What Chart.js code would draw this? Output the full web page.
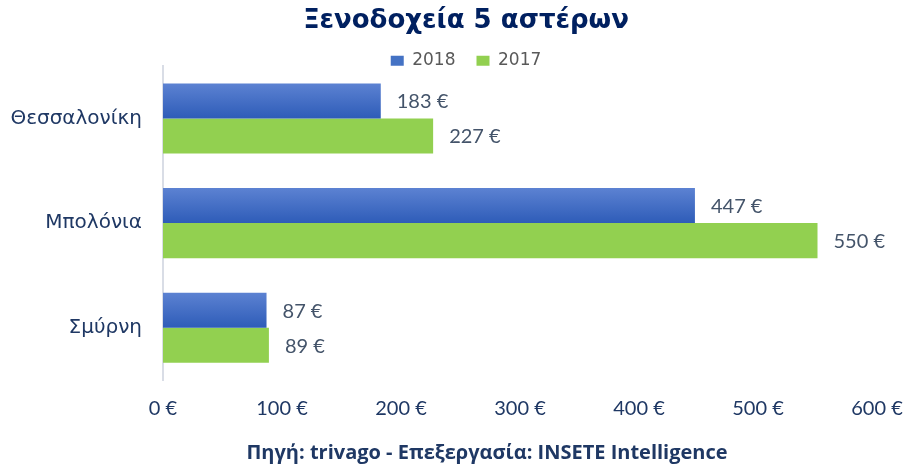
<!DOCTYPE html>
<html>
<head>
<meta charset="utf-8">
<script src="https://cdn.jsdelivr.net/npm/chart.js@4"></script>
<style>
  html, body { margin: 0; padding: 0; background: #fff; }
  #wrap { width: 907px; height: 464px; }
</style>
</head>
<body>
<div id="wrap"><canvas id="myChart" width="907" height="464"></canvas></div>
<script>
// DATA ----------------------------------------
const cities = ['Θεσσαλονίκη', 'Μπολόνια', 'Σμύρνη'];
const prices2018 = [183, 447, 87];
const prices2017 = [227, 550, 89];
const xTicks = [0, 100, 200, 300, 400, 500, 600];
const footerText = 'Πηγή: trivago - Επεξεργασία: INSETE Intelligence';

const navy = '#1f3864';
const catPct = 0.67;

// blue bars have a light-to-dark vertical gradient
function blueFill(c) {
    const chart = c.chart;
    const y = chart.scales.y;
    if (c.type !== 'data' || !y) return '#3f6cc7';
    const yc = y.getPixelForValue(c.dataIndex);
    const band = y.getPixelForValue(1) - y.getPixelForValue(0);
    const h = band * catPct / 2;
    if (!isFinite(yc) || !isFinite(h) || h <= 0) return '#3f6cc7';
    const g = chart.ctx.createLinearGradient(0, yc - h, 0, yc);
    g.addColorStop(0, '#5c82d2');
    g.addColorStop(1, '#2e5cb8');
    return g;
}

// value labels to the right of each bar + source line at the bottom
const valueLabels = {
    id: 'valueLabels',
    afterLayout(chart) {
        // left padding only shifts title/legend; let the city names use the full left margin
        chart.scales.y.left = 0;
    },
    afterDatasetsDraw(chart) {
        const ctx = chart.ctx;
        ctx.save();
        ctx.font = '20px Lato, "Open Sans", sans-serif';
        ctx.fillStyle = '#44546a';
        ctx.textBaseline = 'middle';
        ctx.textAlign = 'left';
        chart.data.datasets.forEach((ds, di) => {
            chart.getDatasetMeta(di).data.forEach((bar, i) => {
                ctx.fillText(ds.data[i] + ' €', bar.x + 16, bar.y + 1);
            });
        });
        ctx.font = 'bold 20px "Open Sans", sans-serif';
        ctx.fillStyle = navy;
        ctx.textAlign = 'center';
        ctx.fillText(footerText, 487, 453);
        ctx.restore();
    }
};

const config = {
    type: 'bar',
    data: {
        labels: cities,
        datasets: [{
            label: '2018',
            data: prices2018,
            backgroundColor: blueFill,
            borderWidth: 0,
            categoryPercentage: catPct,
            barPercentage: 1
        },
        {
            label: '2017',
            data: prices2017,
            backgroundColor: '#92d050',
            borderWidth: 0,
            categoryPercentage: catPct,
            barPercentage: 1
        }]
    },
    options: {
        indexAxis: 'y',
        responsive: false,
        animation: false,
        layout: { padding: { left: 55, right: 30, top: 0, bottom: 40 } },
        plugins: {
            title: {
                display: true,
                text: 'Ξενοδοχεία 5 αστέρων',
                color: '#002060',
                font: { family: '"DejaVu Sans", Verdana, sans-serif', size: 26, weight: 'bold', lineHeight: 1.2 },
                padding: { top: 6, bottom: -6 }
            },
            legend: {
                display: true,
                position: 'top',
                maxHeight: 35,
                labels: {
                    boxWidth: 13,
                    boxHeight: 10,
                    padding: 21,
                    color: '#595959',
                    font: { family: '"DejaVu Sans", Verdana, sans-serif', size: 17 },
                    generateLabels(chart) {
                        return chart.data.datasets.map((ds, i) => ({
                            text: ds.label,
                            fillStyle: i === 0 ? '#4472c4' : '#92d050',
                            strokeStyle: 'transparent',
                            lineWidth: 0,
                            datasetIndex: i,
                            fontColor: '#595959'
                        }));
                    }
                }
            },
            tooltip: { enabled: false }
        },
        scales: {
            x: {
                min: 0,
                max: 600,
                afterBuildTicks(scale) {
                    scale.ticks = xTicks.map(v => ({ value: v }));
                },
                afterFit(scale) {
                    scale.height = 44;
                    scale.paddingLeft = 0;
                    scale.paddingRight = 0;
                },
                grid: { display: false, drawTicks: false },
                border: { display: false },
                ticks: {
                    padding: 17,
                    color: navy,
                    font: { family: 'Lato, "Open Sans", sans-serif', size: 20 },
                    callback: v => v + ' €'
                }
            },
            y: {
                afterFit(scale) { scale.width = 108; },
                grid: { display: false, drawTicks: false },
                border: { display: true, color: '#d9dde6', width: 2 },
                ticks: {
                    padding: 21,
                    color: navy,
                    font: { family: '"DejaVu Sans", Verdana, sans-serif', size: 20 }
                }
            }
        }
    },
    plugins: [valueLabels]
};

const chart = new Chart(document.getElementById('myChart'), config);
</script>
</body>
</html>
